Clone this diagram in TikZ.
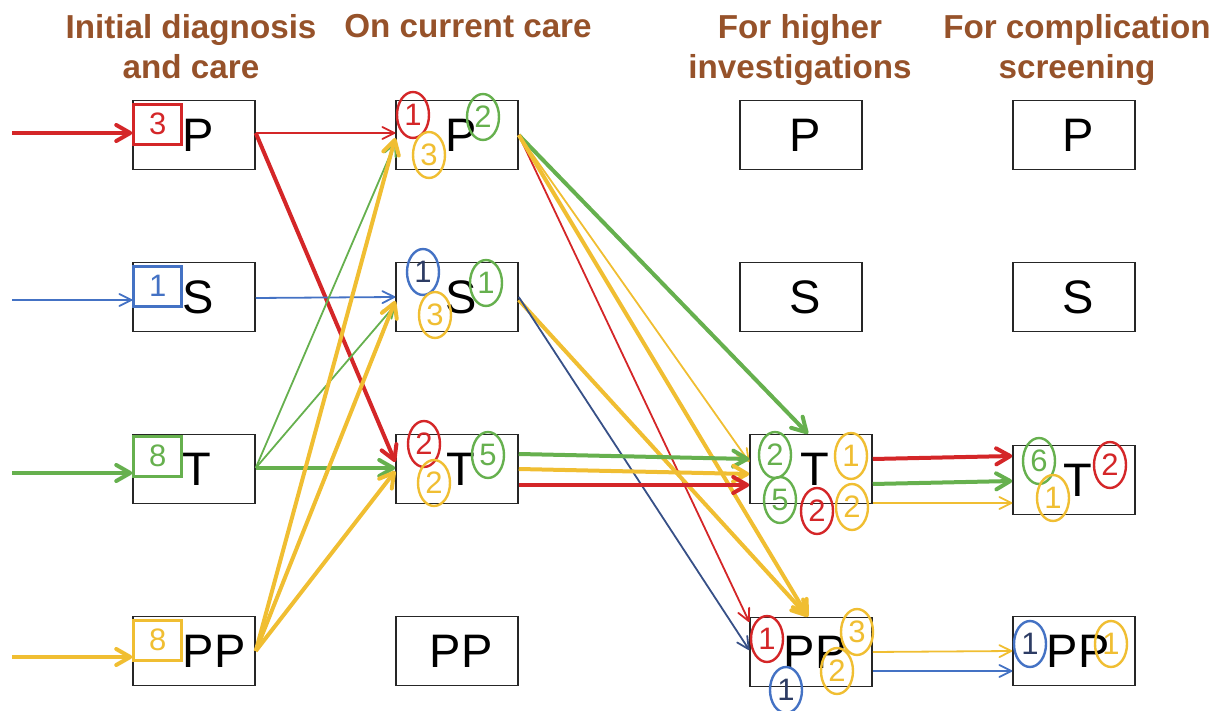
\documentclass[tikz,border=0pt]{standalone}
\usepackage{fontspec}
\setmainfont{Liberation Sans}
\usetikzlibrary{arrows.meta,positioning,shapes.geometric,calc}

\definecolor{pred}{RGB}{212,38,40}
\definecolor{pgreen}{RGB}{102,176,78}
\definecolor{pyellow}{RGB}{240,190,50}
\definecolor{pblue}{RGB}{68,114,196}
\definecolor{pnavy}{RGB}{55,80,135}
\definecolor{pdigit}{RGB}{45,60,100}
\definecolor{headbrown}{RGB}{150,82,42}

\newcommand\digitsize{\fontsize{15.5}{18}\selectfont}

\tikzset{
    %Define style for boxes
    plain/.style={
           rectangle,
           draw=black!85, line width=0.75pt,
           fill=white,
           minimum width=61pt,
           minimum height=34.5pt,
           inner sep=0pt},
    %Define style for box letters
    letter/.style={
           font=\fontsize{23.5}{28}\selectfont,
           inner sep=0pt},
    %Define style for column titles
    head/.style={
           font=\fontsize{16.6}{20}\selectfont\bfseries,
           text=headbrown,
           align=center,
           inner sep=0pt},
    %Define style for square counts
    count/.style={
           rectangle,
           draw=#1, line width=1.5pt,
           text=#1,
           font=\digitsize,
           minimum width=24pt,
           minimum height=20pt,
           inner sep=0pt},
    %Define style for ring counts
    ring/.style={
           ellipse,
           draw=#1, line width=1.2pt,
           text=#1,
           font=\digitsize,
           minimum width=16pt,
           minimum height=23pt,
           inner sep=0pt},
    % Define arrow styles
    pil/.style={
           draw=#1,
           line width=0.9pt,
           -{Straight Barb[length=6pt,width=6pt,round]}},
    fatpil/.style={
           draw=#1,
           line width=2pt,
           -{Straight Barb[length=7pt,width=8pt,round]}}
}

\begin{document}
\begin{tikzpicture}[x=0.5pt, y=-0.5pt]
        \useasboundingbox (0,0) rectangle (1217,711);

        % column titles
        \node[head, anchor=north] (h1) at (191,14) {Initial diagnosis\\and care};
        \node[head, anchor=north] (h2) at (468,14) {On current care};
        \node[head, anchor=north] (h3) at (800,14) {For higher\\investigations};
        \node[head, anchor=north] (h4) at (1077,14) {For complication\\screening};

        % first column boxes
        \node[plain] (c1p) at (194,135) {};
        \node[plain] (c1s) at (194,297) {};
        \node[plain] (c1t) at (194,469) {};
        \node[plain] (c1pp) at (194,651) {};

        % second column boxes
        \node[plain] (c2p) at (457,135) {};
        \node[plain] (c2s) at (457,297) {};
        \node[plain] (c2t) at (457,469) {};
        \node[plain] (c2pp) at (457,651) {};

        % third column boxes
        \node[plain] (c3p) at (801,135) {};
        \node[plain] (c3s) at (801,297) {};
        \node[plain] (c3t) at (811,469) {};
        \node[plain] (c3pp) at (811,652) {};

        % fourth column boxes
        \node[plain] (c4p) at (1074,135) {};
        \node[plain] (c4s) at (1074,297) {};
        \node[plain] (c4t) at (1074,480) {};
        \node[plain] (c4pp) at (1074,651) {};

        % box letters
        \node[letter, anchor=west] (l1p) at ([xshift=25pt]c1p.west) {P};
        \node[letter, anchor=west] (l1s) at ([xshift=25pt]c1s.west) {S};
        \node[letter, anchor=west] (l1t) at ([xshift=25pt]c1t.west) {T};
        \node[letter, anchor=west] (l1pp) at ([xshift=25pt]c1pp.west) {PP};
        \node[letter] (l2p) at ([xshift=2pt]c2p.center) {P};
        \node[letter] (l2s) at ([xshift=2pt]c2s.center) {S};
        \node[letter] (l2t) at ([xshift=2pt]c2t.center) {T};
        \node[letter] (l2pp) at ([xshift=2pt]c2pp.center) {PP};
        \node[letter] (l3p) at ([xshift=2pt]c3p.center) {P};
        \node[letter] (l3s) at ([xshift=2pt]c3s.center) {S};
        \node[letter] (l3t) at ([xshift=2pt]c3t.center) {T};
        \node[letter] (l3pp) at ([xshift=2pt]c3pp.center) {PP};
        \node[letter] (l4p) at ([xshift=2pt]c4p.center) {P};
        \node[letter] (l4s) at ([xshift=2pt]c4s.center) {S};
        \node[letter] (l4t) at ([xshift=2pt]c4t.center) {T};
        \node[letter] (l4pp) at ([xshift=2pt]c4pp.center) {PP};

        % incoming arrows
        \coordinate (inp) at (12,133);
        \coordinate (ins) at (12,300);
        \coordinate (int) at (12,473);
        \coordinate (inpp) at (12,657);
        \draw[fatpil=pred] (inp) -- (c1p.west |- inp);
        \draw[pil=pblue] (ins) -- (c1s.west |- ins);
        \draw[fatpil=pgreen] (int) -- (c1t.west |- int);
        \draw[fatpil=pyellow] (inpp) -- (c1pp.west |- inpp);

        % first to second column
        \draw[pil=pred] ([yshift=1pt]c1p.east) -- ([yshift=1pt]c2p.west);
        \draw[fatpil=pred] ([yshift=1pt]c1p.east) -- ([yshift=3.5pt]c2t.west);
        \draw[pil=pblue] ([yshift=-0.5pt]c1s.east) -- (c2s.west);
        \draw[pil=pgreen] ([yshift=0.5pt]c1t.east) -- ([yshift=-4pt]c2p.west);
        \draw[pil=pgreen] ([yshift=0.5pt]c1t.east) -- ([yshift=-4pt]c2s.west);
        \draw[fatpil=pgreen] ([yshift=0.5pt]c1t.east) -- ([yshift=0.5pt]c2t.west);
        \draw[fatpil=pyellow] (c1pp.east) -- ([yshift=-1.5pt]c2p.west);
        \draw[fatpil=pyellow] (c1pp.east) -- ([yshift=-2pt]c2s.west);
        \draw[fatpil=pyellow] (c1pp.east) -- ([yshift=-1pt]c2t.west);

        % second to third column
        \draw[fatpil=pgreen] (c2p.east) -- ([xshift=-1.5pt]c3t.north);
        \draw[pil=pyellow] (c2p.east) -- ([yshift=3.5pt]c3t.west);
        \draw[pil=pred] (c2p.east) -- ([yshift=15pt]c3pp.west);
        \draw[fatpil=pyellow] (c2p.east) -- ([xshift=-1.5pt]c3pp.north);
        \draw[fatpil=pyellow] ([yshift=-1.5pt]c2s.east) -- ([xshift=-1.5pt]c3pp.north);
        \draw[pil=pnavy] (c2s.east) -- ([yshift=1pt]c3pp.west);
        \draw[fatpil=pgreen] ([yshift=7.5pt]c2t.east) -- ([yshift=5pt]c3t.west);
        \draw[fatpil=pyellow] (c2t.east) -- ([yshift=-2.5pt]c3t.west);
        \draw[fatpil=pred] ([yshift=-8pt]c2t.east) -- ([yshift=-8pt]c3t.west);

        % third to fourth column
        \draw[fatpil=pred] ([yshift=5pt]c3t.east) -- ([yshift=12pt]c4t.west);
        \draw[fatpil=pgreen] ([yshift=-7.5pt]c3t.east) -- ([yshift=-0.5pt]c4t.west);
        \draw[pil=pyellow] ([yshift=-17pt]c3t.east) -- ([yshift=-11.5pt]c4t.west);
        \draw[pil=pyellow] (c3pp.east) -- (c4pp.west);
        \draw[pil=pblue] ([yshift=-9.5pt]c3pp.east) -- ([yshift=-10pt]c4pp.west);

        % square counts in first column
        \node[count=pred, anchor=north west] (n1p) at ([yshift=-1.5pt]c1p.north west) {3};
        \node[count=pblue, anchor=north west] (n1s) at ([yshift=-1.5pt]c1s.north west) {1};
        \node[count=pgreen, anchor=north west] (n1t) at ([yshift=-0.5pt]c1t.north west) {8};
        \node[count=pyellow, anchor=north west] (n1pp) at ([yshift=-1.5pt]c1pp.north west) {8};

        % ring counts in second column
        \node[ring=pred] (r2p1) at (413,115) {1};
        \node[ring=pgreen] (r2p2) at (483,117) {2};
        \node[ring=pyellow] (r2p3) at (429,155) {3};
        \node[ring=pblue, text=pdigit] (r2s1) at (423,272) {1};
        \node[ring=pgreen] (r2s2) at (486,283) {1};
        \node[ring=pyellow] (r2s3) at (435,315) {3};
        \node[ring=pred] (r2t1) at (424,444) {2};
        \node[ring=pyellow] (r2t2) at (434,483) {2};
        \node[ring=pgreen] (r2t3) at (488,455) {5};

        % ring counts in third column
        \node[ring=pgreen] (r3t1) at (775,455) {2};
        \node[ring=pyellow] (r3t2) at (851,456) {1};
        \node[ring=pgreen] (r3t3) at (780,500) {5};
        \node[ring=pred] (r3t4) at (817,511) {2};
        \node[ring=pyellow] (r3t5) at (852,507) {2};
        \node[ring=pred] (r3pp1) at (767,639) {1};
        \node[ring=pblue, text=pdigit] (r3pp2) at (786,690) {1};
        \node[ring=pyellow] (r3pp3) at (857,632) {3};
        \node[ring=pyellow] (r3pp4) at (837,671) {2};

        % ring counts in fourth column
        \node[ring=pgreen] (r4t1) at (1039,461) {6};
        \node[ring=pred] (r4t2) at (1110,465) {2};
        \node[ring=pyellow] (r4t3) at (1053,498) {1};
        \node[ring=pblue, text=pdigit] (r4pp1) at (1030,644) {1};
        \node[ring=pyellow] (r4pp2) at (1111,644) {1};

\end{tikzpicture}
\end{document}
